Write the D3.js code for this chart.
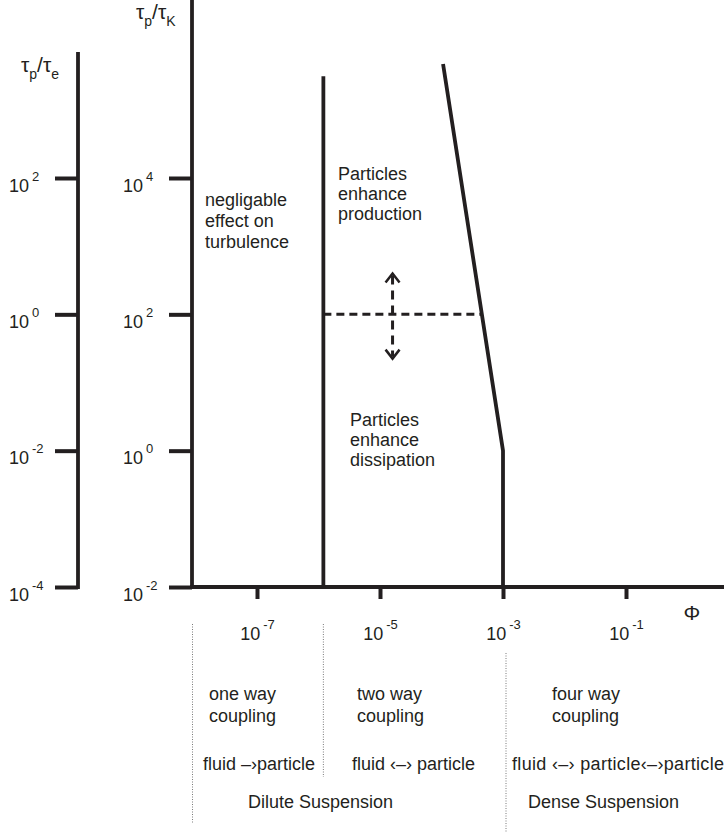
<!DOCTYPE html>
<html>
<head>
<meta charset="utf-8">
<script src="https://cdn.jsdelivr.net/npm/d3@7"></script>
<style>
  body { margin: 0; background: #fff; }
  svg { display: block; font-family: "Liberation Sans", Arial, sans-serif; }
</style>
</head>
<body>
<script>
// tick values of the three axes
var phiTicks = [1e-7, 1e-5, 1e-3, 1e-1];
var phiTickExp = ["-7", "-5", "-3", "-1"];
var tauKTicks = [1e-2, 1e0, 1e2, 1e4];
var tauKTickExp = ["-2", "0", "2", "4"];
var tauETicks = [1e-4, 1e-2, 1e0, 1e2];
var tauETickExp = ["-4", "-2", "0", "2"];

// regime boundaries as [phi, tau_p/tau_K]
var oneWayLine = [[1.2e-6, 1e-2], [1.2e-6, 3.1e5]];
var fourWayLine = [[1.06e-4, 4.7e5], [1e-3, 1e0], [1e-3, 1e-2]];
var splitLevel = 1e2;          // production / dissipation split
var arrowPhi = 1.6e-5;
var arrowRange = [22.4, 398];  // down tip, up tip

var ink = "#231f20";

var svg = d3.select("body").append("svg")
  .attr("width", 724)
  .attr("height", 832);

// log scales
var x = d3.scaleLog().domain([1e-7, 1e-1]).range([257, 626]);
var y = d3.scaleLog().domain([1e-2, 1e4]).range([587, 178]);
var yE = d3.scaleLog().domain([1e-4, 1e2]).range([587, 178]);

// power-of-ten label: "10" + superscript
function powLabel(sel, exps) {
  sel.text(null);
  sel.append("tspan").text("10");
  sel.append("tspan")
    .attr("dx", 3)
    .attr("dy", -11)
    .attr("font-size", 13)
    .text((d, i) => exps[i]);
}

function styleTicks(g) {
  g.select(".domain").remove();
  g.selectAll(".tick line").attr("stroke", ink).attr("stroke-width", 4);
  g.selectAll(".tick text")
    .attr("fill", ink)
    .attr("font-size", 18)
    .attr("font-family", "Liberation Sans, Arial, sans-serif");
}

// main y axis tau_p/tau_K
var gy = svg.append("g")
  .attr("transform", "translate(192,0)")
  .call(d3.axisLeft(y).tickValues(tauKTicks).tickSize(23).tickSizeOuter(0));
styleTicks(gy);
gy.selectAll(".tick text")
  .attr("x", -69).attr("y", 13).attr("dy", null)
  .attr("text-anchor", "start")
  .call(powLabel, tauKTickExp);
gy.append("line")
  .attr("x1", 0).attr("x2", 0).attr("y1", 0).attr("y2", 589)
  .attr("stroke", ink).attr("stroke-width", 3.8);

// left y axis tau_p/tau_e
var ge = svg.append("g")
  .attr("transform", "translate(78,0)")
  .call(d3.axisLeft(yE).tickValues(tauETicks).tickSize(23).tickSizeOuter(0));
styleTicks(ge);
ge.selectAll(".tick text")
  .attr("x", -69).attr("y", 13).attr("dy", null)
  .attr("text-anchor", "start")
  .call(powLabel, tauETickExp);
ge.append("line")
  .attr("x1", 0).attr("x2", 0).attr("y1", 52).attr("y2", 589)
  .attr("stroke", ink).attr("stroke-width", 3.8);

// x axis phi
var gx = svg.append("g")
  .attr("transform", "translate(0,587)")
  .call(d3.axisBottom(x).tickValues(phiTicks).tickSize(12).tickSizeOuter(0));
styleTicks(gx);
gx.selectAll(".tick text")
  .attr("y", 53).attr("dy", null)
  .attr("text-anchor", "middle")
  .call(powLabel, phiTickExp);
gx.append("line")
  .attr("x1", 190).attr("x2", 724).attr("y1", 0).attr("y2", 0)
  .attr("stroke", ink).attr("stroke-width", 3.8);

// axis titles
function tauTitle(xp, yp, sub1, sub2) {
  var t = svg.append("text")
    .attr("x", xp).attr("y", yp)
    .attr("font-size", 21).attr("fill", ink);
  t.append("tspan").text("τ");
  t.append("tspan").attr("font-size", 14).attr("dy", 7).text(sub1);
  t.append("tspan").attr("dy", -7).text("/τ");
  t.append("tspan").attr("font-size", 14).attr("dy", 7).text(sub2);
}
tauTitle(136, 19, "p", "K");
tauTitle(21, 72, "p", "e");

svg.append("text")
  .attr("x", 692).attr("y", 620)
  .attr("text-anchor", "middle")
  .attr("font-size", 21).attr("fill", ink)
  .text("Φ");

// regime boundaries
var line = d3.line().x(d => x(d[0])).y(d => y(d[1]));

svg.append("path")
  .datum(oneWayLine)
  .attr("d", line)
  .attr("fill", "none").attr("stroke", ink).attr("stroke-width", 3.8);

svg.append("path")
  .datum(fourWayLine)
  .attr("d", line)
  .attr("fill", "none").attr("stroke", ink).attr("stroke-width", 3.8)
  .attr("stroke-linejoin", "miter");

// where the split level meets the sloped boundary (log-linear)
var a = fourWayLine[0], b = fourWayLine[1];
var t = (Math.log10(a[1]) - Math.log10(splitLevel)) / (Math.log10(a[1]) - Math.log10(b[1]));
var splitEnd = Math.pow(10, Math.log10(a[0]) + t * (Math.log10(b[0]) - Math.log10(a[0])));

svg.append("line")
  .attr("x1", x(oneWayLine[0][0])).attr("x2", x(splitEnd))
  .attr("y1", y(splitLevel)).attr("y2", y(splitLevel))
  .attr("stroke", ink).attr("stroke-width", 3)
  .attr("stroke-dasharray", "8,5");

// dashed double arrow
var ax = x(arrowPhi);
svg.append("line")
  .attr("x1", ax).attr("x2", ax)
  .attr("y1", y(arrowRange[1]) + 2).attr("y2", y(arrowRange[0]) - 2)
  .attr("stroke", ink).attr("stroke-width", 3)
  .attr("stroke-dasharray", "9,6");
svg.append("path")
  .attr("d", `M${ax - 7},${y(arrowRange[1]) + 9} L${ax},${y(arrowRange[1])} L${ax + 7},${y(arrowRange[1]) + 9}`)
  .attr("fill", "none").attr("stroke", ink).attr("stroke-width", 2.5);
svg.append("path")
  .attr("d", `M${ax - 7},${y(arrowRange[0]) - 9} L${ax},${y(arrowRange[0])} L${ax + 7},${y(arrowRange[0]) - 9}`)
  .attr("fill", "none").attr("stroke", ink).attr("stroke-width", 2.5);

// multi-line labels
function block(lines, xp, yp, lh) {
  var t = svg.append("text")
    .attr("font-size", 18).attr("fill", ink);
  lines.forEach(function(s, i) {
    t.append("tspan").attr("x", xp).attr("y", yp + i * lh).text(s);
  });
  return t;
}
block(["negligable", "effect on", "turbulence"], 205, 206, 21);
block(["Particles", "enhance", "production"], 338, 180, 20);
block(["Particles", "enhance", "dissipation"], 350, 426, 20);

// regime separators below the axis
var sep = svg.append("g")
  .attr("stroke", "#7a7a7a").attr("stroke-width", 1)
  .attr("stroke-dasharray", "1,1.5");
sep.append("line").attr("x1", 192.5).attr("x2", 192.5).attr("y1", 624).attr("y2", 823);
sep.append("line").attr("x1", x(oneWayLine[0][0])).attr("x2", x(oneWayLine[0][0])).attr("y1", 624).attr("y2", 777);
sep.append("line").attr("x1", x(1e-3) + 3).attr("x2", x(1e-3) + 3).attr("y1", 653).attr("y2", 832);

block(["one way", "coupling"], 209, 700, 22);
block(["fluid \u2013\u203aparticle"], 203, 770, 0);
block(["two way", "coupling"], 357, 700, 22);
block(["fluid \u2039\u2013\u203a particle"], 352, 770, 0);
block(["four way", "coupling"], 552, 700, 22);
block(["fluid \u2039\u2013\u203a particle\u2039\u2013\u203aparticle"], 512, 770, 0)
  .select("tspan").attr("textLength", 212).attr("lengthAdjust", "spacing");
block(["Dilute Suspension"], 248, 808, 0);
block(["Dense Suspension"], 528, 808, 0);
</script>
</body>
</html>
